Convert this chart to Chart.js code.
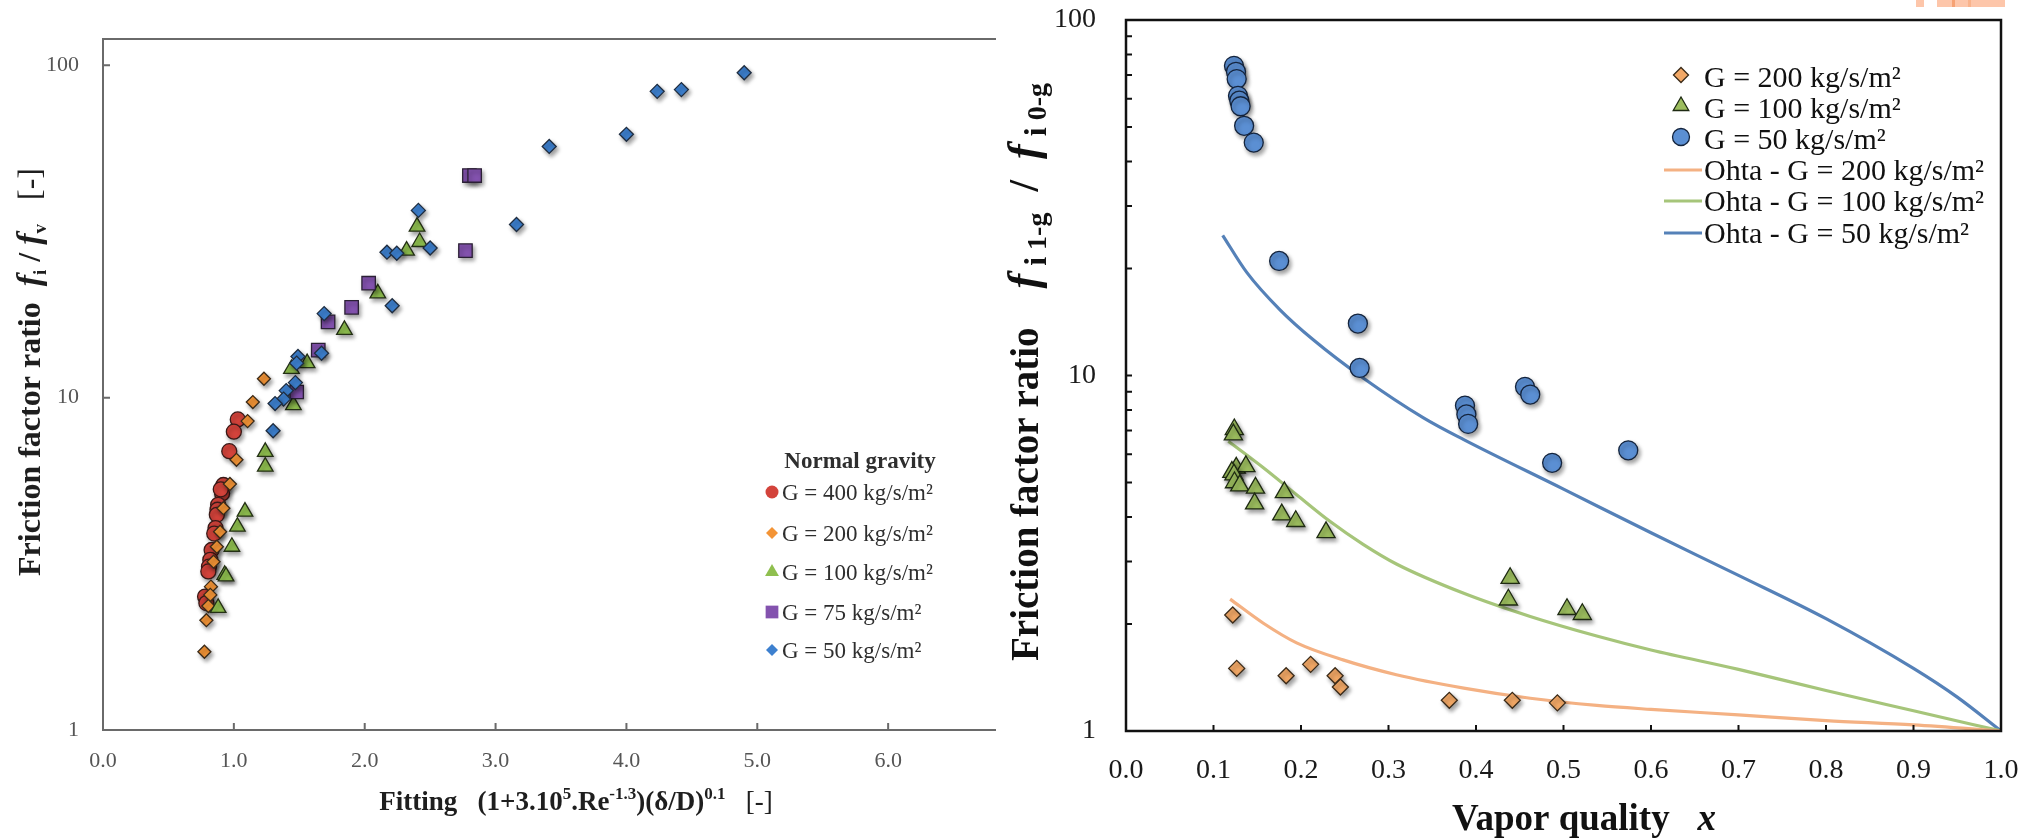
<!DOCTYPE html>
<html>
<head>
<meta charset="utf-8">
<script src="https://cdn.jsdelivr.net/npm/chart.js@4.4.1/dist/chart.umd.min.js"></script>
<style>
  body { margin: 0; background: #fff; width: 2022px; height: 840px; overflow: hidden; position: relative; }
  #leftWrap { position: absolute; left: 0; top: 0; width: 996px; height: 840px; overflow: hidden; }
  #rightWrap { position: absolute; left: 1000px; top: 0; width: 1022px; height: 840px; overflow: hidden; }
  .tab { position: absolute; top: 0; height: 7px; background: #fdc6aa; }
</style>
</head>
<body>
<div id="leftWrap"><canvas id="fitChart" width="1040" height="840"></canvas></div>
<div id="rightWrap"><canvas id="qualityChart" width="1022" height="840"></canvas></div>
<div class="tab" style="left:1916px;width:8px"></div>
<div class="tab" style="left:1937px;width:68px;background:linear-gradient(90deg,#fdc6aa 0,#fdc6aa 15px,#f6a274 15px,#f6a274 18px,#fdc6aa 18px,#fdc6aa 31px,#f9b38c 31px,#f9b38c 34px,#fdc6aa 34px)"></div>

<script>
// ---- left plot: friction ratio vs fitting parameter ----
const g400X = [1.03, 1.00, 0.965, 0.92, 0.91, 0.90, 0.88, 0.875, 0.87, 0.86, 0.85, 0.83, 0.82, 0.81, 0.805, 0.78, 0.79];
const g400Y = [8.6, 7.9, 6.9, 5.46, 5.15, 5.3, 4.76, 4.6, 4.44, 4.05, 3.9, 3.48, 3.25, 3.1, 3.0, 2.52, 2.41];
const g200X = [1.23, 1.145, 1.105, 1.02, 0.97, 0.92, 0.895, 0.87, 0.845, 0.825, 0.82, 0.805, 0.79, 0.775];
const g200Y = [11.4, 9.7, 8.5, 6.5, 5.5, 4.65, 3.95, 3.56, 3.21, 2.70, 2.55, 2.36, 2.14, 1.72];
const g100X = [2.40, 2.42, 2.32, 2.10, 1.845, 1.56, 1.44, 1.455, 1.24, 1.24, 1.085, 1.027, 0.985, 0.93, 0.94, 0.88];
const g100Y = [32.7, 29.4, 27.7, 20.6, 16.0, 12.7, 12.2, 9.5, 6.87, 6.2, 4.54, 4.09, 3.56, 2.93, 2.9, 2.33];
const g75X = [2.80, 2.84, 2.77, 2.03, 1.90, 1.72, 1.645, 1.48];
const g75Y = [46.6, 46.6, 27.7, 22.1, 18.7, 16.9, 13.9, 10.4];
const g50X = [4.90, 4.42, 4.235, 4.0, 3.41, 3.16, 2.41, 2.50, 2.17, 2.245, 2.21, 1.69, 1.67, 1.49, 1.48, 1.47, 1.40, 1.38, 1.315, 1.30];
const g50Y = [95, 84.5, 83.5, 62, 57, 33.2, 36.6, 28.2, 27.4, 27.2, 18.9, 17.9, 13.6, 13.3, 12.7, 11.1, 10.5, 9.9, 9.6, 7.95];
const fitYTicks = [1, 10, 100];

// ---- right plot: friction ratio vs vapor quality ----
const q200X = [0.122, 0.1265, 0.183, 0.211, 0.239, 0.245, 0.3695, 0.4415, 0.493];
const q200Y = [2.12, 1.50, 1.43, 1.54, 1.43, 1.33, 1.22, 1.22, 1.20];
const q100X = [0.1238, 0.1227, 0.126, 0.137, 0.121, 0.1234, 0.124, 0.130, 0.148, 0.147, 0.181, 0.178, 0.194, 0.2286, 0.439, 0.437, 0.504, 0.5215];
const q100Y = [7.05, 6.82, 5.5, 5.55, 5.35, 5.26, 5.0, 4.9, 4.83, 4.36, 4.69, 4.06, 3.89, 3.62, 2.69, 2.34, 2.20, 2.13];
const q50X = [0.1234, 0.1257, 0.1265, 0.128, 0.1295, 0.131, 0.135, 0.146, 0.175, 0.265, 0.267, 0.3874, 0.389, 0.391, 0.456, 0.462, 0.487, 0.574];
const q50Y = [74.3, 71.5, 68.2, 61.2, 59.3, 57.2, 50.4, 45.2, 21.0, 14.0, 10.5, 8.23, 7.77, 7.31, 9.29, 8.84, 5.68, 6.16];
const ohta200X = [0.119, 0.157, 0.195, 0.248, 0.309, 0.386, 0.462, 0.538, 0.6, 0.7, 0.8, 0.9, 1.0];
const ohta200Y = [2.35, 2.01, 1.77, 1.585, 1.44, 1.32, 1.236, 1.18, 1.15, 1.11, 1.07, 1.04, 1.0];
const ohta100X = [0.117, 0.157, 0.195, 0.233, 0.271, 0.309, 0.386, 0.462, 0.538, 0.6, 0.7, 0.8, 0.9, 1.0];
const ohta100Y = [6.53, 5.50, 4.62, 3.89, 3.35, 2.95, 2.44, 2.10, 1.85, 1.69, 1.49, 1.30, 1.14, 1.0];
const ohta50X = [0.1105, 0.138, 0.176, 0.214, 0.271, 0.34, 0.386, 0.5, 0.6, 0.7, 0.8, 0.9, 0.95, 1.0];
const ohta50Y = [24.8, 19.5, 15.3, 12.6, 9.84, 7.6, 6.6, 4.79, 3.61, 2.74, 2.07, 1.50, 1.245, 1.0];
const qualityYTicks = [1, 2, 3, 4, 5, 6, 7, 8, 9, 10, 20, 30, 40, 50, 60, 70, 80, 90, 100];

const SERIF = '"Liberation Serif", "Times New Roman", serif';

function pairs(xs, ys) {
  return xs.map((x, i) => ({ x: x, y: ys[i] }));
}

function markers(label, xs, ys, shape, fill, r, edge) {
  return {
    label: label, data: pairs(xs, ys), pointStyle: shape,
    pointRadius: r, pointHoverRadius: r, backgroundColor: fill,
    borderColor: edge, borderWidth: 1.3, pointBorderWidth: 1.3,
    showLine: false, order: 1, shadow: true
  };
}

function curve(label, xs, ys, color) {
  return {
    label: label, data: pairs(xs, ys), showLine: true, pointRadius: 0,
    borderColor: color, borderWidth: 3.2, backgroundColor: color,
    cubicInterpolationMode: 'monotone', fill: false, order: 2
  };
}

// keep tick-label overflow from shrinking the plot area
function noLabelPadding(s) {
  s.paddingTop = 0; s.paddingBottom = 0; s.paddingLeft = 0; s.paddingRight = 0;
}

// legend glyphs, same geometry as the chart point styles
function drawMark(ctx, shape, x, y, r, fill, edge) {
  ctx.beginPath();
  if (shape === 'circle') {
    ctx.arc(x, y, r, 0, Math.PI * 2);
  } else if (shape === 'rectRot') {
    ctx.moveTo(x - r, y); ctx.lineTo(x, y - r); ctx.lineTo(x + r, y); ctx.lineTo(x, y + r); ctx.closePath();
  } else if (shape === 'triangle') {
    for (let k = 0; k < 3; k++) {
      const a = -Math.PI / 2 + k * 2 * Math.PI / 3;
      const px = x + r * Math.cos(a), py = y + r * Math.sin(a);
      if (k === 0) ctx.moveTo(px, py); else ctx.lineTo(px, py);
    }
    ctx.closePath();
  } else {
    const s = r * Math.SQRT1_2;
    ctx.rect(x - s, y - s, 2 * s, 2 * s);
  }
  ctx.fillStyle = fill;
  ctx.fill();
  if (edge) { ctx.strokeStyle = edge; ctx.lineWidth = 1.3; ctx.stroke(); }
}

// text with mixed fonts, sub- and superscripts
function drawRich(ctx, runs, x, y) {
  let w = 0;
  runs.forEach(r => { ctx.font = r.font; w += ctx.measureText(r.text).width; });
  let cx = x - w / 2;
  runs.forEach(r => {
    ctx.font = r.font;
    ctx.fillText(r.text, cx, y + (r.dy || 0));
    cx += ctx.measureText(r.text).width;
  });
}

function makeDecor(style, extras) {
  return {
    id: 'decor',
    beforeDatasetDraw(chart, args) {
      if (!chart.data.datasets[args.index].shadow) return;
      const ctx = chart.ctx;
      ctx.save();
      ctx.shadowColor = 'rgba(0,0,0,0.38)';
      ctx.shadowBlur = 4;
      ctx.shadowOffsetX = 2;
      ctx.shadowOffsetY = 3;
    },
    afterDatasetDraw(chart, args) {
      if (chart.data.datasets[args.index].shadow) chart.ctx.restore();
    },
    afterDraw(chart) {
      const ctx = chart.ctx, a = chart.chartArea;
      const xs = chart.scales.x, ys = chart.scales.y;
      ctx.save();
      ctx.strokeStyle = style.frame;
      ctx.lineWidth = style.frameWidth;
      ctx.strokeRect(a.left, a.top, a.right - a.left, a.bottom - a.top);
      // tick marks point into the plot
      ctx.lineWidth = style.tickWidth;
      ctx.beginPath();
      xs.ticks.forEach(t => {
        const p = xs.getPixelForValue(t.value);
        ctx.moveTo(p, a.bottom); ctx.lineTo(p, a.bottom - style.tickLen);
      });
      ys.ticks.forEach(t => {
        const p = ys.getPixelForValue(t.value);
        ctx.moveTo(a.left, p); ctx.lineTo(a.left + style.tickLen, p);
      });
      ctx.stroke();
      extras(ctx, chart);
      ctx.restore();
    }
  };
}

// ---------- left chart ----------
const fitLegend = [
  { text: 'G = 400 kg/s/m²', shape: 'circle', fill: '#d3433b', r: 6.5 },
  { text: 'G = 200 kg/s/m²', shape: 'rectRot', fill: '#f39436', r: 6 },
  { text: 'G = 100 kg/s/m²', shape: 'triangle', fill: '#8fbf4f', r: 8 },
  { text: 'G = 75 kg/s/m²', shape: 'rect', fill: '#8352ae', r: 9 },
  { text: 'G = 50 kg/s/m²', shape: 'rectRot', fill: '#3d80cf', r: 6 }
];
const fitRows = [492, 533, 572, 612, 650];

const fitDecor = makeDecor({ frame: '#6a6a6a', frameWidth: 2, tickWidth: 2, tickLen: 7 }, (ctx) => {
  ctx.fillStyle = '#1e1e1e';
  ctx.textBaseline = 'alphabetic';
  // axis titles
  drawRich(ctx, [
    { text: 'Fitting   (1+3.10', font: 'bold 27px ' + SERIF },
    { text: '5', font: 'bold 17px ' + SERIF, dy: -11 },
    { text: '.Re', font: 'bold 27px ' + SERIF },
    { text: '-1.3', font: 'bold 17px ' + SERIF, dy: -11 },
    { text: ')(δ/D)', font: 'bold 27px ' + SERIF },
    { text: '0.1', font: 'bold 17px ' + SERIF, dy: -11 },
    { text: '   [-]', font: '27px ' + SERIF }
  ], 576, 810);
  ctx.save();
  ctx.translate(40, 372);
  ctx.rotate(-Math.PI / 2);
  drawRich(ctx, [
    { text: 'Friction factor ratio  ', font: 'bold 32px ' + SERIF },
    { text: 'f', font: 'bold italic 34px ' + SERIF },
    { text: 'i', font: 'bold 19px ' + SERIF, dy: 6 },
    { text: ' / ', font: 'bold 32px ' + SERIF },
    { text: 'f', font: 'bold italic 34px ' + SERIF },
    { text: 'v', font: 'bold 19px ' + SERIF, dy: 6 },
    { text: '   [-]', font: '32px ' + SERIF }
  ], 0, 0);
  ctx.restore();
  // legend
  ctx.fillStyle = '#2e2e2e';
  ctx.font = 'bold 23px ' + SERIF;
  ctx.textAlign = 'center';
  ctx.fillText('Normal gravity', 860, 468);
  ctx.textAlign = 'left';
  ctx.font = '23px ' + SERIF;
  fitLegend.forEach((e, i) => {
    drawMark(ctx, e.shape, 772, fitRows[i], e.r, e.fill, null);
    ctx.fillStyle = '#2e2e2e';
    ctx.fillText(e.text, 782, fitRows[i] + 8);
  });
});

new Chart(document.getElementById('fitChart'), {
  type: 'scatter',
  data: {
    datasets: [
      markers('G = 50 kg/s/m²', g50X, g50Y, 'rectRot', '#3d80cf', 7, '#1f2d40'),
      markers('G = 75 kg/s/m²', g75X, g75Y, 'rect', '#8352ae', 9.5, '#2b2035'),
      markers('G = 100 kg/s/m²', g100X, g100Y, 'triangle', '#8fbf4f', 9, '#243015'),
      markers('G = 200 kg/s/m²', g200X, g200Y, 'rectRot', '#f39436', 6.5, '#3a2a18'),
      markers('G = 400 kg/s/m²', g400X, g400Y, 'circle', '#d3433b', 7.5, '#3a1a18')
    ]
  },
  options: {
    responsive: false, animation: false, events: [],
    layout: { autoPadding: false, padding: { top: 39, right: 21, bottom: 0, left: 0 } },
    plugins: { legend: { display: false }, tooltip: { enabled: false } },
    scales: {
      x: {
        type: 'linear', min: 0, max: 7,
        grid: { display: false, drawTicks: false }, border: { display: false },
        ticks: { stepSize: 1, padding: 18, color: '#555', font: { family: SERIF, size: 22 }, callback: v => v.toFixed(1) },
        afterFit(s) { s.height = 110; noLabelPadding(s); }
      },
      y: {
        type: 'logarithmic', min: 1, max: 120,
        grid: { display: false, drawTicks: false }, border: { display: false },
        afterBuildTicks(s) { s.ticks = fitYTicks.map(v => ({ value: v })); },
        ticks: { autoSkip: false, padding: 24, color: '#555', font: { family: SERIF, size: 22 }, callback: v => String(v) },
        afterFit(s) { s.width = 103; noLabelPadding(s); }
      }
    }
  },
  plugins: [fitDecor]
});

// ---------- right chart ----------
const qualityLegend = [
  { text: 'G = 200 kg/s/m²', shape: 'rectRot', fill: '#f2a866', edge: '#3a2a18', r: 7.5 },
  { text: 'G = 100 kg/s/m²', shape: 'triangle', fill: '#9cbd5e', edge: '#1e2a12', r: 9 },
  { text: 'G = 50 kg/s/m²', shape: 'circle', fill: '#5b8fd3', edge: '#14243d', r: 8.5 },
  { text: 'Ohta - G = 200 kg/s/m²', line: '#f4b183' },
  { text: 'Ohta - G = 100 kg/s/m²', line: '#a6c57a' },
  { text: 'Ohta - G = 50 kg/s/m²', line: '#5581b8' }
];
const qualityRows = [77, 108, 139, 170, 201, 233];

const qualityDecor = makeDecor({ frame: '#111', frameWidth: 2.5, tickWidth: 2, tickLen: 6 }, (ctx) => {
  ctx.fillStyle = '#111';
  ctx.textBaseline = 'alphabetic';
  drawRich(ctx, [
    { text: 'Vapor quality   ', font: 'bold 37px ' + SERIF },
    { text: 'x', font: 'bold italic 37px ' + SERIF }
  ], 584, 830);
  ctx.save();
  ctx.translate(38, 372);
  ctx.rotate(-Math.PI / 2);
  drawRich(ctx, [
    { text: 'Friction factor ratio    ', font: 'bold 39px ' + SERIF },
    { text: 'f', font: 'bold italic 44px ' + SERIF },
    { text: ' i', font: 'bold 32px ' + SERIF, dy: 8 },
    { text: ' 1-g', font: 'bold 28px ' + SERIF, dy: 8 },
    { text: '  /  ', font: 'bold 42px ' + SERIF },
    { text: 'f', font: 'bold italic 44px ' + SERIF },
    { text: ' i', font: 'bold 32px ' + SERIF, dy: 8 },
    { text: ' 0-g', font: 'bold 28px ' + SERIF, dy: 8 }
  ], 0, 0);
  ctx.restore();
  // legend
  ctx.font = '30px ' + SERIF;
  ctx.textAlign = 'left';
  qualityLegend.forEach((e, i) => {
    const y = qualityRows[i];
    if (e.line) {
      ctx.strokeStyle = e.line;
      ctx.lineWidth = 3;
      ctx.beginPath(); ctx.moveTo(664, y); ctx.lineTo(702, y); ctx.stroke();
    } else {
      drawMark(ctx, e.shape, 681, y - 2, e.r, e.fill, e.edge);
    }
    ctx.fillStyle = '#111';
    ctx.fillText(e.text, 704, y + 10);
  });
});

new Chart(document.getElementById('qualityChart'), {
  type: 'scatter',
  data: {
    datasets: [
      markers('G = 200 kg/s/m²', q200X, q200Y, 'rectRot', '#f2a866', 8, '#3a2a18'),
      markers('G = 100 kg/s/m²', q100X, q100Y, 'triangle', '#9cbd5e', 10.5, '#1e2a12'),
      markers('G = 50 kg/s/m²', q50X, q50Y, 'circle', '#5b8fd3', 9.5, '#14243d'),
      curve('Ohta - G = 200 kg/s/m²', ohta200X, ohta200Y, '#f4b183'),
      curve('Ohta - G = 100 kg/s/m²', ohta100X, ohta100Y, '#a6c57a'),
      curve('Ohta - G = 50 kg/s/m²', ohta50X, ohta50Y, '#5581b8')
    ]
  },
  options: {
    responsive: false, animation: false, events: [],
    layout: { autoPadding: false, padding: { top: 20, right: 21, bottom: 0, left: 0 } },
    plugins: { legend: { display: false }, tooltip: { enabled: false } },
    scales: {
      x: {
        type: 'linear', min: 0, max: 1,
        grid: { display: false, drawTicks: false }, border: { display: false },
        ticks: { stepSize: 0.1, padding: 23, color: '#1a1a1a', font: { family: SERIF, size: 28 }, callback: v => v.toFixed(1) },
        afterFit(s) { s.height = 109; noLabelPadding(s); }
      },
      y: {
        type: 'logarithmic', min: 1, max: 100,
        grid: { display: false, drawTicks: false }, border: { display: false },
        afterBuildTicks(s) { s.ticks = qualityYTicks.map(v => ({ value: v })); },
        ticks: {
          autoSkip: false, padding: 30, color: '#1a1a1a', font: { family: SERIF, size: 28 },
          callback: v => ([1, 10, 100].includes(v) ? String(v) : '')
        },
        afterFit(s) { s.width = 126; noLabelPadding(s); }
      }
    }
  },
  plugins: [qualityDecor]
});
</script>
</body>
</html>
